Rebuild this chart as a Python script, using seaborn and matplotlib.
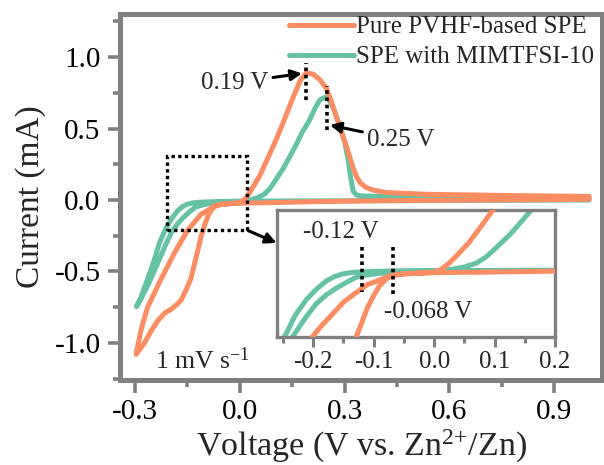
import matplotlib
matplotlib.use("Agg")
import matplotlib.pyplot as plt
from matplotlib.ticker import FixedLocator, FormatStrFormatter
from matplotlib.patches import Rectangle
import seaborn as sns
import pandas as pd

# Cyclic voltammetry loops (voltage in V vs Zn2+/Zn, current in mA)
pure_v = [1.00, 0.70, 0.40, 0.20, 0.10, 0.00, -0.03, -0.06, -0.075, -0.09, -0.111,
          -0.149, -0.187, -0.225, -0.264, -0.282, -0.297,
          -0.285, -0.273, -0.255, -0.235, -0.215, -0.197, -0.18, -0.168, -0.154,
          -0.14, -0.129, -0.12, -0.111, -0.10, -0.09, -0.079, -0.068, -0.05, -0.02,
          0.00, 0.012, 0.025, 0.04, 0.057, 0.076, 0.10, 0.124, 0.153, 0.172, 0.19,
          0.21, 0.23, 0.248, 0.262, 0.277, 0.292, 0.306, 0.316, 0.325, 0.335, 0.345,
          0.36, 0.38, 0.42, 0.535, 0.75, 1.00]
pure_i = [0.005, 0.000, -0.005, -0.012, -0.018, -0.022, -0.025, -0.032, -0.045, -0.07, -0.10,
          -0.21, -0.37, -0.55, -0.75, -0.90, -1.08,
          -1.04, -1.00, -0.92, -0.845, -0.79, -0.765, -0.73, -0.70, -0.63,
          -0.55, -0.44, -0.35, -0.255, -0.17, -0.105, -0.062, -0.04, -0.03, -0.025,
          -0.018, 0.000, 0.04, 0.10, 0.17, 0.27, 0.40, 0.54, 0.72, 0.83, 0.89,
          0.88, 0.84, 0.78, 0.69, 0.58, 0.47, 0.37, 0.29, 0.22, 0.16, 0.12,
          0.09, 0.07, 0.052, 0.04, 0.032, 0.025]

mim_v = [1.00, 0.70, 0.40, 0.20, 0.00, -0.05, -0.09, -0.117, -0.135, -0.151, -0.165,
         -0.178, -0.195, -0.212, -0.23, -0.245, -0.265, -0.283, -0.296,
         -0.285, -0.26, -0.231, -0.212, -0.195, -0.178, -0.162, -0.145, -0.129,
         -0.115, -0.101, -0.09, -0.05, 0.00, 0.03, 0.05, 0.07, 0.086, 0.10, 0.124,
         0.14, 0.162, 0.18, 0.20, 0.215, 0.229, 0.25, 0.265, 0.277, 0.29, 0.301,
         0.31, 0.318, 0.325, 0.334, 0.35, 0.50, 0.75, 1.00]
mim_i = [0.000, -0.003, -0.005, -0.006, -0.008, -0.010, -0.013, -0.016, -0.020, -0.030, -0.048,
         -0.075, -0.13, -0.20, -0.30, -0.42, -0.56, -0.68, -0.746,
         -0.70, -0.58, -0.42, -0.31, -0.224, -0.165, -0.123, -0.085, -0.052,
         -0.040, -0.032, -0.026, -0.018, -0.010, 0.000, 0.015, 0.040, 0.08, 0.13, 0.22,
         0.29, 0.39, 0.48, 0.56, 0.64, 0.70, 0.725, 0.66, 0.58, 0.49, 0.40,
         0.28, 0.15, 0.06, 0.035, 0.028, 0.022, 0.018, 0.015]

labels = ["Pure PVHF-based SPE", "SPE with MIMTFSI-10"]
colors = ["#fc8d62", "#66c2a5"]

# tick positions
x_major = [-0.3, 0.0, 0.3, 0.6, 0.9]
x_minor = [-0.15, 0.15, 0.45, 0.75]
y_major = [-1.0, -0.5, 0.0, 0.5, 1.0]
y_minor = [-1.25, -0.75, -0.25, 0.25, 0.75, 1.25]
inset_major = [-0.2, -0.1, 0.0, 0.1, 0.2]
inset_minor = [-0.25, -0.15, -0.05, 0.05, 0.15]

# Peak / onset potentials marked on the plot
peak_pure, peak_mim = 0.19, 0.25
onset_a, onset_b = -0.12, -0.068
sweep_label = "1 mV s$^{-1}$"

df = pd.concat([
    pd.DataFrame({"V": pure_v, "I": pure_i, "sample": labels[0]}),
    pd.DataFrame({"V": mim_v, "I": mim_i, "sample": labels[1]}),
], ignore_index=True)

sns.set_style("ticks")
plt.rcParams["font.family"] = ["Liberation Serif", "DejaVu Serif"]
plt.rcParams["mathtext.fontset"] = "custom"
plt.rcParams["mathtext.rm"] = "Liberation Serif"
plt.rcParams["mathtext.it"] = "Liberation Serif:italic"
plt.rcParams["mathtext.default"] = "regular"
plt.rcParams["axes.unicode_minus"] = False

grey = "#808080"
lw = 3.6

fig = plt.figure(figsize=(6.04, 4.65), dpi=100)
ax = fig.add_axes([120 / 604, 85 / 465, 482 / 604, 366 / 465])

palette = dict(zip(labels, colors))
sns.lineplot(data=df, x="V", y="I", hue="sample", hue_order=labels, palette=palette,
             sort=False, estimator=None, lw=lw, ax=ax, legend=False)
for ln, z in zip(ax.lines, [3, 2]):
    ln.set_zorder(z)
    ln.set_solid_capstyle("round")
    ln.set_solid_joinstyle("round")

ax.set_xlim(-0.343, 1.037)
ax.set_ylim(-1.259, 1.301)
ax.xaxis.set_major_locator(FixedLocator(x_major))
ax.xaxis.set_minor_locator(FixedLocator(x_minor))
ax.yaxis.set_major_locator(FixedLocator(y_major))
ax.yaxis.set_minor_locator(FixedLocator(y_minor))
ax.xaxis.set_major_formatter(FormatStrFormatter("%.1f"))
ax.yaxis.set_major_formatter(FormatStrFormatter("%.1f"))
ax.tick_params(which="major", direction="out", length=9, width=2.6, color=grey,
               labelsize=21, pad=5, labelcolor="black")
ax.tick_params(which="minor", direction="out", length=5, width=2.6, color=grey)
for s in ax.spines.values():
    s.set_color(grey)
    s.set_linewidth(3.6)

ax.set_xlabel("Voltage (V vs. Zn$^{2{+}}$/Zn)", fontsize=24.5, labelpad=2)
ax.set_ylabel("Current (mA)", fontsize=24, labelpad=6)

# legend
handles = [plt.Line2D([], [], color=c, lw=lw, solid_capstyle="round") for c in colors]
leg = ax.legend(handles, labels, loc="upper right", bbox_to_anchor=(0.992, 1.005),
                frameon=False, fontsize=18, handlelength=2.6, handletextpad=0.1,
                labelspacing=0.3, borderaxespad=0.05, borderpad=0.1)

# peak markers
dot = dict(color="black", lw=2.6, linestyle=(0, (1, 1)), zorder=5)
ax.plot([peak_pure, peak_pure], [0.70, 0.96], **dot)
ax.plot([peak_mim, peak_mim], [0.49, 0.80], **dot)
arrow = dict(arrowstyle="-|>", color="black", lw=2.2, mutation_scale=16,
             shrinkA=1, shrinkB=0)
ax.annotate(f"{peak_pure:.2f} V", xy=(peak_pure - 0.012, 0.885), xytext=(0.082, 0.82),
            ha="right", va="center", fontsize=18, arrowprops=arrow, zorder=6)
ax.annotate(f"{peak_mim:.2f} V", xy=(peak_mim + 0.008, 0.524), xytext=(0.364, 0.42),
            ha="left", va="center", fontsize=18, arrowprops=arrow, zorder=6)

ax.text(-0.244, -1.125, sweep_label, ha="left", va="center", fontsize=18.5)

# zoom window and pointer
ax.add_patch(Rectangle((-0.209, -0.21), 0.229, 0.52, fill=False, ec="black",
                       lw=2.4, linestyle=(0, (1, 1)), zorder=5))
ax.annotate("", xy=(0.105, -0.30), xytext=(0.02, -0.21), arrowprops=arrow, zorder=6)

# inset
ins = fig.add_axes([277 / 604, 1 - 337 / 465, 278 / 604, 127 / 465])
sns.lineplot(data=df, x="V", y="I", hue="sample", hue_order=labels, palette=palette,
             sort=False, estimator=None, lw=lw, ax=ins, legend=False)
for ln, z in zip(ins.lines, [3, 2]):
    ln.set_zorder(z)
    ln.set_solid_capstyle("round")
ins.set_xlim(-0.26, 0.2)
ins.set_ylim(-0.44, 0.385)
ins.xaxis.set_major_locator(FixedLocator(inset_major))
ins.xaxis.set_minor_locator(FixedLocator(inset_minor))
ins.xaxis.set_major_formatter(FormatStrFormatter("%.1f"))
ins.set_yticks([])
ins.set_xlabel("")
ins.set_ylabel("")
ins.tick_params(axis="x", which="major", direction="out", length=7, width=2.2,
                color=grey, labelsize=18, pad=3)
ins.tick_params(axis="x", which="minor", direction="out", length=4.5, width=2.2,
                color=grey)
for s in ins.spines.values():
    s.set_color(grey)
    s.set_linewidth(2.4)
ins.plot([onset_a, onset_a], [0.147, -0.146], **dot)
ins.plot([onset_b, onset_b], [0.147, -0.167], **dot)
ins.text(-0.2166, 0.242, f"{onset_a:.2f} V", ha="left", va="center", fontsize=18)
ins.text(-0.0837, -0.278, f"{onset_b:.3f} V", ha="left", va="center", fontsize=18)

fig.savefig("out.png", dpi=100)
